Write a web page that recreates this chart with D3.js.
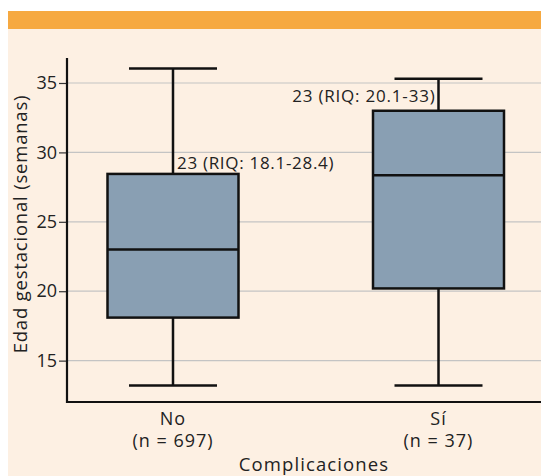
<!DOCTYPE html>
<html><head><meta charset="utf-8">
<script src="https://cdn.jsdelivr.net/npm/d3@7"></script>
<style>body{margin:0;background:#fff}svg{display:block}text{font-family:"Open Sans",sans-serif;fill:#222}</style>
</head><body><svg id="c" width="541" height="476"></svg>
<script>
const categories = ["No", "Sí"];
const nLabels = ["(n = 697)", "(n = 37)"];
const whiskerLow = [13.2, 13.2];
const q1 = [18.1, 20.2];
const median = [23.0, 28.35];
const q3 = [28.45, 33.0];
const whiskerHigh = [36.05, 35.3];
const annotations = ["23 (RIQ: 18.1-28.4)", "23 (RIQ: 20.1-33)"];
const yTicks = [15, 20, 25, 30, 35];

(function(){
const svg = d3.select("#c");
svg.append("rect").attr("x",8).attr("y",29).attr("width",533).attr("height",447).attr("fill","#fdf0e3");
svg.append("rect").attr("x",8).attr("y",11).attr("width",533).attr("height",18).attr("fill","#f6a941");

const mL = 67, mR = 541, mT = 58, mB = 402;
const y = d3.scaleLinear().domain([12.02, 36.8]).range([mB, mT]);
const x = d3.scalePoint().domain(categories).range([173, 438.5]);
const boxW = 131, capW = 88;

svg.append("g").selectAll("line").data(yTicks).join("line")
  .attr("x1",mL).attr("x2",mR).attr("y1",d=>y(d)).attr("y2",d=>y(d))
  .attr("stroke","#c4c4c4").attr("stroke-width",1.2);

const ya = svg.append("g").attr("transform",`translate(${mL},0)`)
  .call(d3.axisLeft(y).tickValues(yTicks).tickSize(8).tickPadding(2).tickFormat(d3.format("d")));
ya.select(".domain").remove();
ya.selectAll(".tick line").attr("stroke","#333").attr("stroke-width",1.2);
ya.selectAll(".tick text").attr("font-size",18).attr("fill","#333").attr("font-family","Open Sans");

svg.append("line").attr("x1",mL).attr("x2",mL).attr("y1",mT).attr("y2",mB+1).attr("stroke","#111").attr("stroke-width",2.2);
svg.append("line").attr("x1",mL-1).attr("x2",mR).attr("y1",mB).attr("y2",mB).attr("stroke","#111").attr("stroke-width",2.2);

const idx = d3.range(categories.length);
const g = svg.append("g");
g.selectAll(".wl").data(idx).join("line")
  .attr("x1",i=>x(categories[i])).attr("x2",i=>x(categories[i]))
  .attr("y1",i=>y(whiskerHigh[i])).attr("y2",i=>y(whiskerLow[i]))
  .attr("stroke","#111").attr("stroke-width",2.5);
g.selectAll(".cap").data(idx.flatMap(i=>[[i,whiskerLow[i]],[i,whiskerHigh[i]]])).join("line")
  .attr("x1",d=>x(categories[d[0]])-capW/2).attr("x2",d=>x(categories[d[0]])+capW/2)
  .attr("y1",d=>y(d[1])).attr("y2",d=>y(d[1]))
  .attr("stroke","#111").attr("stroke-width",2.5);
g.selectAll(".box").data(idx).join("rect")
  .attr("x",i=>x(categories[i])-boxW/2).attr("width",boxW)
  .attr("y",i=>y(q3[i])).attr("height",i=>y(q1[i])-y(q3[i]))
  .attr("fill","#899fb3").attr("stroke","#111").attr("stroke-width",2.5);
g.selectAll(".med").data(idx).join("line")
  .attr("x1",i=>x(categories[i])-boxW/2).attr("x2",i=>x(categories[i])+boxW/2)
  .attr("y1",i=>y(median[i])).attr("y2",i=>y(median[i]))
  .attr("stroke","#111").attr("stroke-width",2.5);

svg.append("text").attr("x",x(categories[0])+4).attr("y",y(q3[0])-4.5).attr("font-size",17).attr("letter-spacing",0.7).text(annotations[0]);
svg.append("text").attr("x",x(categories[1])-3).attr("y",y(q3[1])-9).attr("text-anchor","end").attr("font-size",17).attr("letter-spacing",0.8).text(annotations[1]);

categories.forEach((c,i)=>{
  svg.append("text").attr("x",x(c)).attr("y",425).attr("text-anchor","middle").attr("font-size",18).attr("letter-spacing",1).attr("fill","#333").text(c);
  svg.append("text").attr("x",x(c)).attr("y",447).attr("text-anchor","middle").attr("font-size",18).attr("letter-spacing",1).attr("fill","#333").text(nLabels[i]);
});
svg.append("text").attr("x",314).attr("y",470.5).attr("text-anchor","middle").attr("font-size",18.5).attr("letter-spacing",1.1).attr("fill","#333").text("Complicaciones");
svg.append("text").attr("transform","translate(27,224) rotate(-90)").attr("text-anchor","middle").attr("font-size",18.5).attr("letter-spacing",0.8).attr("fill","#333").text("Edad gestacional (semanas)");
})();
</script></body></html>
